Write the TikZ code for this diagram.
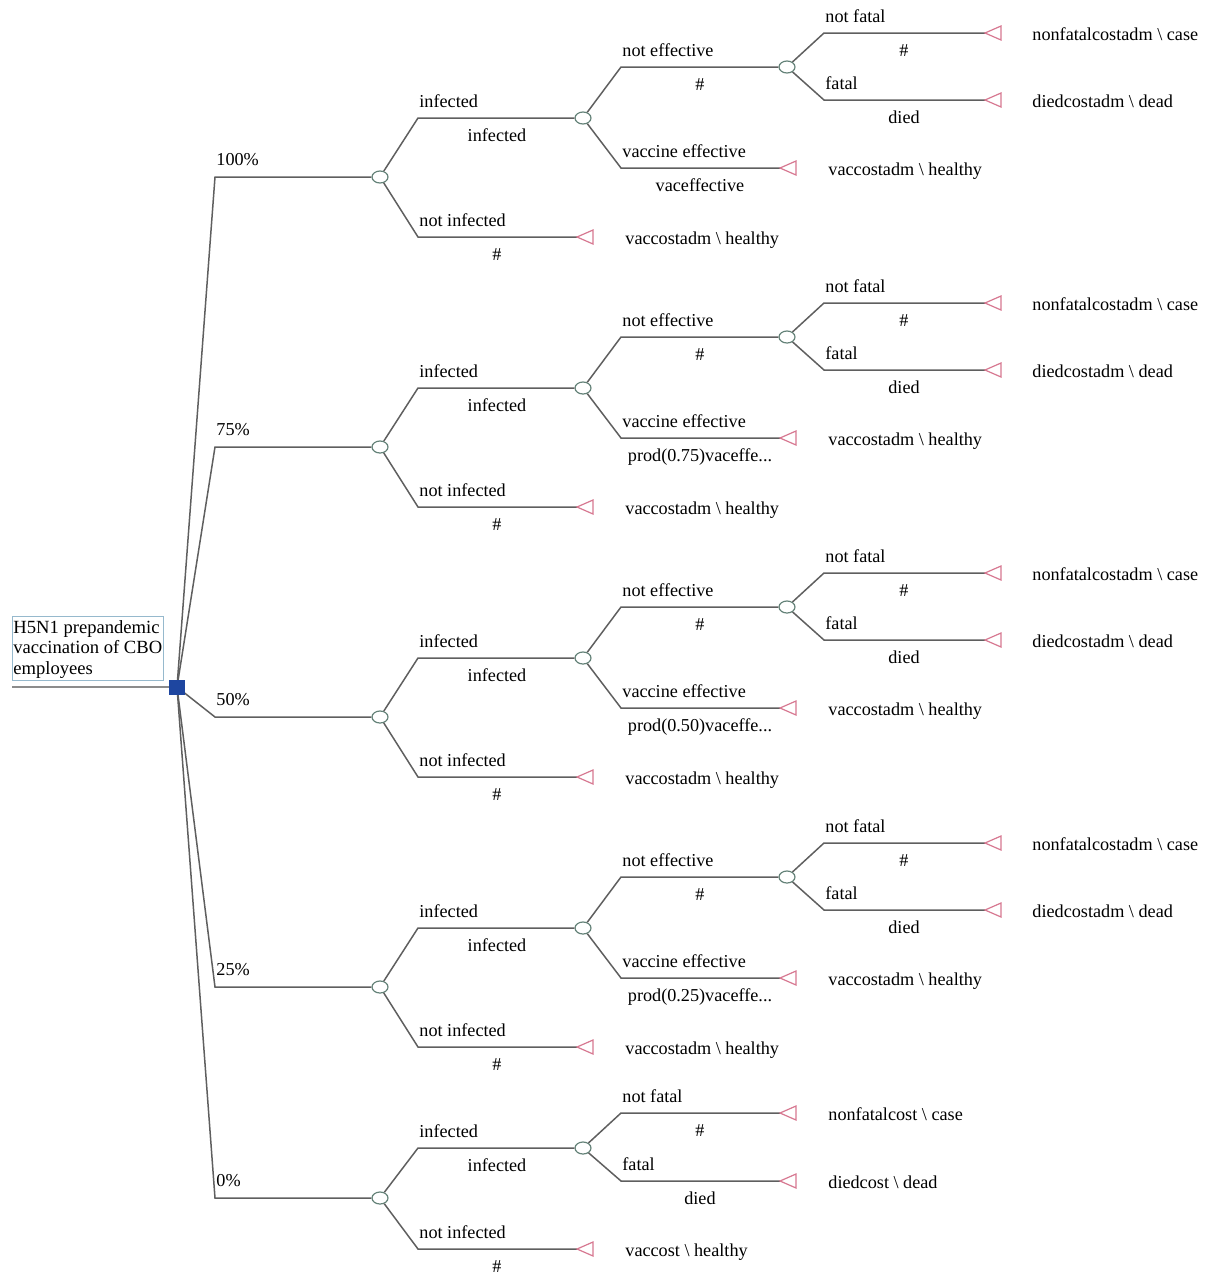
\documentclass[tikz,border=0pt]{standalone}
\usepackage{fontspec}
\setmainfont{Liberation Serif}
\usetikzlibrary{shapes.geometric}
\definecolor{edgec}{RGB}{95,95,95}
\definecolor{chancec}{RGB}{100,130,120}
\definecolor{termc}{RGB}{215,120,145}
\definecolor{boxc}{RGB}{150,185,205}
\definecolor{decc}{RGB}{30,70,160}
\definecolor{ulc}{RGB}{140,140,140}
\pgfdeclarelayer{bg}
\pgfsetlayers{bg,main}
\tikzset{
  edge/.style={draw=edgec, line width=0.75pt},
  chance/.style={ellipse, draw=chancec, fill=white, line width=0.6pt, minimum width=8pt, minimum height=6pt, inner sep=0pt},
  term/.style={draw=termc, line width=0.6pt, fill=white},
  lab/.style={inner sep=0pt, font=\fontsize{9.1}{11}\selectfont},
  ab/.style={lab, anchor=base west},
  be/.style={lab, anchor=base},
  tt/.style={lab, anchor=base west},
}
\newcommand\termtri[1]{\draw[term] (#1) -- ++(16,-7) -- ++(0,14) -- cycle;}
\newcommand\trdots{...}
\begin{document}
\begin{tikzpicture}[x=0.5pt,y=-0.5pt]
\useasboundingbox (0,0) rectangle (1209,1275);
% root
\node[draw=boxc, line width=0.5pt, anchor=north west, minimum width=75.5pt, minimum height=32pt, inner sep=0pt] (title) at (12,616) {};
\node[lab, anchor=north west, align=left, font=\fontsize{9.3}{10.25}\selectfont] (titletext) at (13,620) {H5N1 prepandemic\\vaccination of CBO\\employees};
\node[fill=decc, minimum width=8pt, minimum height=7.5pt, inner sep=0pt] (sq) at (177,687) {};
\coordinate (ul) at (12,687);
\begin{pgfonlayer}{bg}
\draw[ulc, line width=1.1pt] (ul) -- (sq.center);
\end{pgfonlayer}
% four vaccination subtrees
\foreach \k/\p/\v in {0/100\%/vaceffective, 1/75\%/prod(0.75)vaceffe\trdots, 2/50\%/prod(0.50)vaceffe\trdots, 3/25\%/prod(0.25)vaceffe\trdots}{
  \pgfmathsetmacro\Y{177+270*\k}
  \coordinate (r\k) at (215,\Y);
  \node[chance] (c\k) at (380,\Y) {};
  \coordinate (i\k) at (418,\Y-59);
  \node[chance] (ci\k) at (583,\Y-59) {};
  \coordinate (n\k) at (418,\Y+60);
  \coordinate (tn\k) at (577,\Y+60);
  \coordinate (ne\k) at (621,\Y-110);
  \node[chance] (cn\k) at (787,\Y-110) {};
  \coordinate (ve\k) at (621,\Y-9);
  \coordinate (tv\k) at (780,\Y-9);
  \coordinate (nf\k) at (824,\Y-144);
  \coordinate (tnf\k) at (985,\Y-144);
  \coordinate (fa\k) at (824,\Y-77);
  \coordinate (tfa\k) at (985,\Y-77);
  \begin{pgfonlayer}{bg}
  \draw[edge] (sq.center) -- (r\k) -- (c\k);
  \end{pgfonlayer}
  \draw[edge] (c\k) -- (i\k) -- (ci\k);
  \draw[edge] (c\k) -- (n\k) -- (tn\k);
  \draw[edge] (ci\k) -- (ne\k) -- (cn\k);
  \draw[edge] (ci\k) -- (ve\k) -- (tv\k);
  \draw[edge] (cn\k) -- (nf\k) -- (tnf\k);
  \draw[edge] (cn\k) -- (fa\k) -- (tfa\k);
  \termtri{tn\k}
  \termtri{tv\k}
  \termtri{tnf\k}
  \termtri{tfa\k}
  \node[ab] (pl\k) at (216,\Y-12) {\p};
  \node[ab] (la\k) at (419,\Y-70) {infected};
  \node[be] (lb\k) at (497,\Y-36) {infected};
  \node[ab] (lc\k) at (419,\Y+49) {not infected};
  \node[be] (ld\k) at (497,\Y+83) {\#};
  \node[ab] (le\k) at (622,\Y-121) {not effective};
  \node[be] (lf\k) at (700,\Y-87) {\#};
  \node[ab] (lg\k) at (622,\Y-20) {vaccine effective};
  \node[be] (lh\k) at (700,\Y+14) {\v};
  \node[ab] (li\k) at (825,\Y-155) {not fatal};
  \node[be] (lj\k) at (904,\Y-121) {\#};
  \node[ab] (lk\k) at (825,\Y-88) {fatal};
  \node[be] (ll\k) at (904,\Y-54) {died};
  \node[tt] (ta\k) at (625,\Y+67) {vaccostadm \textbackslash{} healthy};
  \node[tt] (tb\k) at (828,\Y-2) {vaccostadm \textbackslash{} healthy};
  \node[tt] (tc\k) at (1032,\Y-137) {nonfatalcostadm \textbackslash{} case};
  \node[tt] (td\k) at (1032,\Y-70) {diedcostadm \textbackslash{} dead};
}
% 0% subtree
\coordinate (r4) at (215,1198);
\node[chance] (c4) at (380,1198) {};
\coordinate (i4) at (418,1148);
\node[chance] (ci4) at (583,1148) {};
\coordinate (n4) at (418,1249);
\coordinate (tn4) at (577,1249);
\coordinate (nf4) at (621,1113);
\coordinate (tnf4) at (780,1113);
\coordinate (fa4) at (621,1181);
\coordinate (tfa4) at (780,1181);
\begin{pgfonlayer}{bg}
\draw[edge] (sq.center) -- (r4) -- (c4);
\end{pgfonlayer}
\draw[edge] (c4) -- (i4) -- (ci4);
\draw[edge] (c4) -- (n4) -- (tn4);
\draw[edge] (ci4) -- (nf4) -- (tnf4);
\draw[edge] (ci4) -- (fa4) -- (tfa4);
\termtri{tn4}
\termtri{tnf4}
\termtri{tfa4}
\node[ab] (pl4) at (216,1186) {0\%};
\node[ab] (la4) at (419,1137) {infected};
\node[be] (lb4) at (497,1171) {infected};
\node[ab] (lc4) at (419,1238) {not infected};
\node[be] (ld4) at (497,1272) {\#};
\node[ab] (le4) at (622,1102) {not fatal};
\node[be] (lf4) at (700,1136) {\#};
\node[ab] (lg4) at (622,1170) {fatal};
\node[be] (lh4) at (700,1204) {died};
\node[tt] (ta4) at (625,1256) {vaccost \textbackslash{} healthy};
\node[tt] (tb4) at (828,1120) {nonfatalcost \textbackslash{} case};
\node[tt] (tc4) at (828,1188) {diedcost \textbackslash{} dead};
\end{tikzpicture}
\end{document}
